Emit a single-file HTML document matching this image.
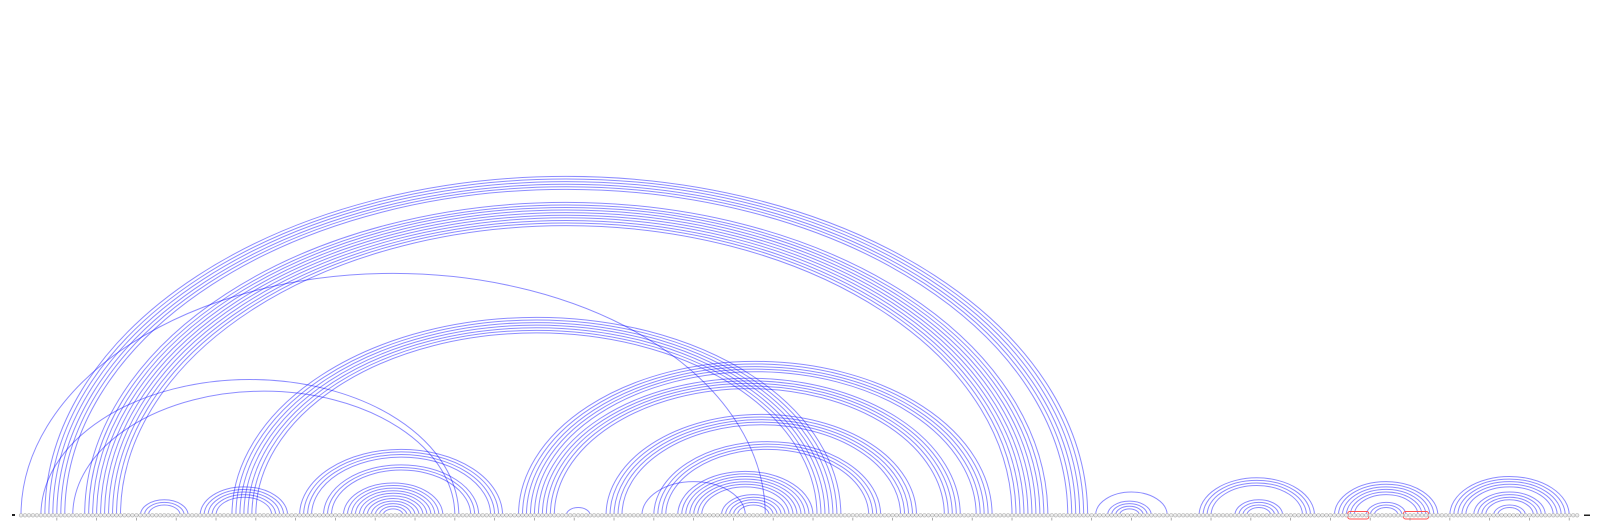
<!DOCTYPE html>
<html><head><meta charset="utf-8"><style>
html,body{margin:0;padding:0;background:#fff;width:1600px;height:524px;overflow:hidden}
svg{display:block}
</style></head><body>
<svg id="chart" width="1600" height="524" viewBox="0 0 1600 524" xmlns="http://www.w3.org/2000/svg">
<g id="arcs"></g>
<g id="boxes"></g>
<g id="bases"></g>
<g id="ticks"></g>
<rect x="12" y="514" width="3" height="2" fill="#222"/>
<rect x="1584" y="514.5" width="6" height="1.5" fill="#222"/>
</svg>
<script>
const seqLength = 392;
const helixStart = [1, 6, 14, 7, 17, 31, 46, 54, 71, 77, 82, 86, 126, 131, 138, 148, 157, 160, 166, 177, 271, 274, 297, 306, 331, 339, 360, 366, 371];
const helixEnd   = [188, 111, 110, 269, 259, 43, 68, 207, 122, 116, 107, 103, 245, 237, 144, 226, 183, 217, 200, 193, 289, 285, 326, 318, 357, 349, 390, 384, 379];
const helixLength= [1, 1, 1, 6, 10, 3, 5, 7, 4, 3, 4, 7, 5, 5, 1, 5, 1, 4, 7, 5, 1, 4, 4, 4, 6, 3, 5, 4, 2];
const boxStart = [335, 349];
const boxEnd   = [339, 354];
const tickStep = 10;

const NS = 'http://www.w3.org/2000/svg';
const X0 = 21, DX = 3.98, BASE_Y = 515.3, RATIO = 0.65;
function xPos(i){ return X0 + (i - 1) * DX; }

const arcs = document.getElementById('arcs');
for (let h = 0; h < helixStart.length; h++) {
  for (let k = 0; k < helixLength[h]; k++) {
    const a = helixStart[h] + k, b = helixEnd[h] - k;
    const x1 = xPos(a), x2 = xPos(b);
    const rx = (x2 - x1) / 2, ry = rx * RATIO;
    const p = document.createElementNS(NS, 'path');
    p.setAttribute('d', `M${x1},${BASE_Y} A${rx},${ry} 0 0 1 ${x2},${BASE_Y}`);
    p.setAttribute('fill', 'none');
    p.setAttribute('stroke', '#0000ff');
    p.setAttribute('stroke-opacity', '0.45');
    p.setAttribute('stroke-width', '1');
    
    
    arcs.appendChild(p);
  }
}

const boxes = document.getElementById('boxes');
for (let b = 0; b < boxStart.length; b++) {
  const r = document.createElementNS(NS, 'rect');
  const x1 = xPos(boxStart[b]) - 2.5, x2 = xPos(boxEnd[b]) + 2.5;
  r.setAttribute('x', x1); r.setAttribute('y', 511.5);
  r.setAttribute('width', x2 - x1); r.setAttribute('height', 7.5);
  r.setAttribute('rx', 2);
  r.setAttribute('fill', 'none'); r.setAttribute('stroke', '#ff5555'); r.setAttribute('stroke-width', '1');
  
  
  boxes.appendChild(r);
}

const bases = document.getElementById('bases');
for (let i = 1; i <= seqLength; i++) {
  const c = document.createElementNS(NS, 'circle');
  c.setAttribute('cx', xPos(i)); c.setAttribute('cy', BASE_Y); c.setAttribute('r', 1.8);
  c.setAttribute('fill', '#ececec'); c.setAttribute('stroke', '#aaaaaa'); c.setAttribute('stroke-width', '0.6');
  
  
  bases.appendChild(c);
}

const ticks = document.getElementById('ticks');
for (let i = tickStep; i <= seqLength; i += tickStep) {
  const l = document.createElementNS(NS, 'line');
  l.setAttribute('x1', xPos(i)); l.setAttribute('x2', xPos(i));
  l.setAttribute('y1', 518); l.setAttribute('y2', 520.5);
  l.setAttribute('stroke', '#999'); l.setAttribute('stroke-width', '0.8');
  
  
  ticks.appendChild(l);
  const t = document.createElementNS(NS, 'text');
  t.setAttribute('x', xPos(i)); t.setAttribute('y', 528);
  t.setAttribute('font-size', '6'); t.setAttribute('text-anchor', 'middle');
  t.setAttribute('font-family', 'Liberation Sans, sans-serif'); t.setAttribute('fill', '#333');
  
  
  t.textContent = String(i);
  ticks.appendChild(t);
}
</script>
</body></html>
